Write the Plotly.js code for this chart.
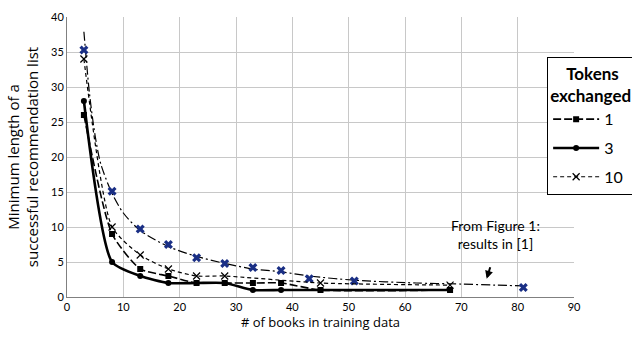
<!DOCTYPE html>
<html><head><meta charset="utf-8">
<script src="https://cdn.plot.ly/plotly-3.0.1.min.js"></script>
<style>html,body{margin:0;padding:0;background:#fff}#chart{width:632px;height:340px}</style>
</head><body><div id="chart"></div>
<script>
var xTicks = [0,10,20,30,40,50,60,70,80,90];
var yTicks = [0,5,10,15,20,25,30,35,40];

var x1 = [3,8,13,18,23,28,33,38,45,68];
var y1 = [26,9,4,3,2,2,2,2,1,1];

var x3 = [3,8,13,18,23,28,33,38,45,68];
var y3 = [28,5,3,2,2,2,1,1,1,1];

var x10 = [3,8,13,18,23,28,45,68];
var y10 = [34,10,6,4,3,3,2,1.7];

var xFig1 = [3,8,13,18,23,28,33,38,43,51,81];
var yFig1 = [35.3,15.1,9.7,7.5,5.6,4.8,4.2,3.8,2.6,2.3,1.35];

var trendX = [3,4,5,6,8,10,13,18,23,28,33,38,43,51,62,70,76,81];
var trendY = [37.9,29,23,19,14.8,12,9.5,7.2,5.8,4.8,4.0,3.6,3.0,2.4,2.0,1.85,1.7,1.6];

var fontFam = 'Lato, "Open Sans", sans-serif';
var titleFam = '"Open Sans", Lato, sans-serif';
var nb = '\u00a0';

var traces = [
  {x: trendX, y: trendY, mode: 'lines', line: {color: '#000', width: 1.2, dash: '9px,3px,2px,3px', shape: 'spline', smoothing: 0.8}, showlegend: false, hoverinfo: 'skip'},
  {x: xFig1, y: yFig1, mode: 'markers', marker: {symbol: 'x', size: 8, color: '#1a2f85'}, showlegend: false},
  {x: x10, y: y10, name: '10', legendgroup: 'g10', legendrank: 3, mode: 'lines+markers', line: {color: '#000', width: 1.2, dash: '4px,3px', shape: 'spline', smoothing: 0.6}, marker: {symbol: 'x-thin-open', size: 7, color: '#000', line: {width: 1.2, color: '#000'}}},
  {x: x1, y: y1, name: '1', legendgroup: 'g1', legendrank: 1, mode: 'lines+markers', line: {color: '#000', width: 1.6, dash: '8px,3px', shape: 'spline', smoothing: 0.6}, marker: {symbol: 'square', size: 6, color: '#000'}},
  {x: x3, y: y3, name: '3', legendgroup: 'g3', legendrank: 2, mode: 'lines+markers', line: {color: '#000', width: 2.6, shape: 'spline', smoothing: 0.6}, marker: {symbol: 'circle', size: 6, color: '#000'}}
];

var layout = {
  width: 632, height: 340,
  margin: {l: 67, r: 58, t: 17, b: 43, autoexpand: false},
  paper_bgcolor: '#fff', plot_bgcolor: '#fff',
  font: {family: fontFam, color: '#000', size: 11},
  xaxis: {
    range: [0, 90], tickvals: xTicks, ticktext: xTicks.map(String),
    showgrid: true, gridcolor: '#c8c8c8', gridwidth: 1,
    showline: true, linecolor: '#808080', linewidth: 1, zeroline: false,
    ticks: '', tickfont: {size: 11, color: '#000'},
    title: {text: '# of books in training data', font: {size: 13, color: '#000', family: titleFam}, standoff: 5}
  },
  yaxis: {
    range: [0, 40], tickvals: yTicks, ticktext: yTicks.map(String),
    showgrid: true, gridcolor: '#c8c8c8', gridwidth: 1,
    showline: true, linecolor: '#808080', linewidth: 1, zeroline: false,
    ticks: '', tickfont: {size: 11, color: '#000'},
    title: {text: 'Minimum length of a<br>successful recommendation list', font: {size: 15, color: '#000', family: titleFam}, standoff: 8}
  },
  showlegend: true,
  legend: {
    x: 0.947, xanchor: 'left', y: 0.857, yanchor: 'top',
    bordercolor: '#000', borderwidth: 1, bgcolor: '#fff',
    font: {size: 16, color: '#000', family: fontFam},
    title: {text: '<b>' + nb + nb + nb + nb + 'Tokens</b><br><b>exchanged</b>', side: 'top center', font: {size: 17, color: '#000', family: fontFam}},
    traceorder: 'grouped', tracegroupgap: 5, itemwidth: 46
  },
  annotations: [
    {x: 76, y: 8.9, xref: 'x', yref: 'y', text: 'From Figure 1:<br>results in [1]', showarrow: false, font: {size: 14, color: '#000'}, align: 'center'},
    {x: 74.5, y: 2.6, xref: 'x', yref: 'y', text: '', showarrow: true, arrowhead: 2, arrowsize: 0.8, arrowwidth: 2, arrowcolor: '#000', ax: 4, ay: -13}
  ]
};

Plotly.newPlot('chart', traces, layout, {displayModeBar: false, staticPlot: true});
</script></body></html>
